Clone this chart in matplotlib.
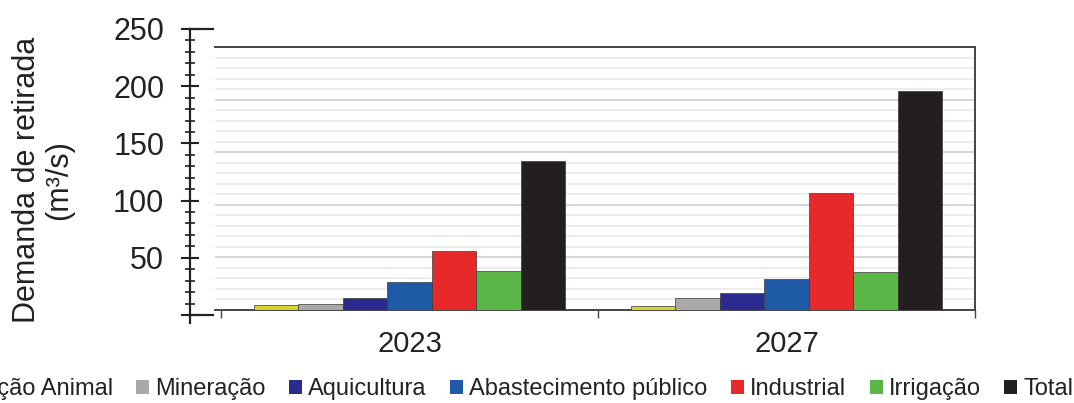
import matplotlib
matplotlib.use("Agg")
import matplotlib.pyplot as plt
import numpy as np
from matplotlib.patches import Patch
from matplotlib.ticker import MultipleLocator, FixedLocator, FuncFormatter

plt.rcParams['font.family'] = ['Liberation Sans', 'DejaVu Sans']

# ---- data ----
years = ["2023", "2027"]
series = ["Criação Animal", "Mineração", "Aquicultura", "Abastecimento público",
          "Industrial", "Irrigação", "Total"]
values = {
    "Criação Animal":        [4.3, 3.6],
    "Mineração":             [5.5, 11.2],
    "Aquicultura":           [10.9, 16.0],
    "Abastecimento público": [26.5, 28.8],
    "Industrial":            [55.4, 111.2],
    "Irrigação":             [37.0, 36.0],
    "Total":                 [141.7, 208.4],
}
colors = ["#d6d52e", "#a9a9aa", "#2b2a8e", "#1f5aa6", "#e8292b", "#5cb547", "#231f20"]
yticks = [50, 100, 150, 200, 250]

W, H = 1074, 403
fig = plt.figure(figsize=(W / 100, H / 100), dpi=100)

def fx(px):
    return px / W

def fy(py):
    return 1 - py / H

# ---- back wall / plotting axes ----
wall_l, wall_r, wall_b, wall_t = 215, 975, 309.5, 47
ax = fig.add_axes([fx(wall_l), fy(wall_b), fx(wall_r - wall_l), fy(wall_t) - fy(wall_b)])
cat_w = (975 - 221)
x_left = -0.5 - (221 - wall_l) / (cat_w / 2)
ax.set_xlim(x_left, 1.5)
ax.set_ylim(0, 250)

for v in np.arange(10, 250, 10):
    col = "#d4d4d4" if v % 50 == 0 else "#ececec"
    ax.axhline(v, color=col, lw=1.3, zorder=0)

n = len(series)
bw = 44.5 / (cat_w / 2)
x = np.arange(len(years))
for i, (s, c) in enumerate(zip(series, colors)):
    off = (i - (n - 1) / 2) * bw
    ax.bar(x + off, values[s], width=bw, color=c, edgecolor="#3a3a3a",
           linewidth=0.5, zorder=3)

ax.spines["left"].set_visible(False)
for sp in ["top", "right", "bottom"]:
    ax.spines[sp].set_color("#444444")
    ax.spines[sp].set_linewidth(1.4)

ax.set_yticks([])
ax.set_xticks(x)
ax.set_xticklabels(years, fontsize=21, color="#222222")
ax.tick_params(axis="x", which="major", length=0, pad=15)
ax.xaxis.set_minor_locator(FixedLocator([-0.5, 0.5, 1.5]))
ax.tick_params(axis="x", which="minor", length=6, width=1.0, color="#444444")

# ---- value axis (left) ----
axl_b, axl_t = 315, 29
axl = fig.add_axes([fx(190), fy(axl_b), fx(213 - 190), fy(axl_t) - fy(axl_b)])
axl.set_ylim(0, 250)
axl.set_xlim(0, 1)
axl.patch.set_visible(False)
for sp in ["top", "right", "bottom"]:
    axl.spines[sp].set_visible(False)
axl.spines["left"].set_linewidth(1.6)
axl.spines["left"].set_color("#222222")
axl.set_xticks([])
axl.yaxis.set_major_locator(FixedLocator([0] + yticks))
axl.yaxis.set_major_formatter(FuncFormatter(lambda v, p: "" if v == 0 else f"{int(v)}"))
axl.yaxis.set_minor_locator(MultipleLocator(10))
axl.tick_params(axis="y", which="major", direction="inout", length=13, width=1.5,
                labelsize=22, pad=12, colors="#222222")
axl.tick_params(axis="y", which="minor", direction="inout", length=7, width=1.2,
                color="#222222")
axl.plot([0, 1], [0, 0], color="#222222", lw=1.6, clip_on=False)
axl.plot([0, 1], [250, 250], color="#222222", lw=1.6, clip_on=False)
axl.plot([0, 0], [0, -7], color="#222222", lw=1.6, clip_on=False)

fig.text(fx(43), fy(180), "Demanda de retirada\n(m³/s)", rotation=90,
         ha="center", va="center", multialignment="center",
         fontsize=22, color="#222222", linespacing=1.12)

handles = [Patch(facecolor=c, edgecolor="none") for c in colors]
fig.legend(handles, series, loc="center right", bbox_to_anchor=(fx(1073), fy(389)),
           ncol=7, frameon=False, fontsize=17, handlelength=0.55, handleheight=0.55,
           handletextpad=0.25, columnspacing=1.0, borderpad=0, borderaxespad=0,
           labelcolor="#222222")

fig.savefig("out.png", dpi=100)
